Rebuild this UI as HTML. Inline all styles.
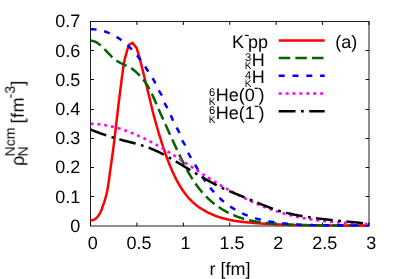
<!DOCTYPE html>
<html><head><meta charset="utf-8"><style>
html,body{margin:0;padding:0;background:#fff;}
svg{display:block;}
text{font-family:"Liberation Sans",sans-serif;font-size:18px;fill:#000;text-rendering:geometricPrecision;}
</style></head><body>
<svg width="399" height="279" viewBox="0 0 399 279">
<rect width="399" height="279" fill="#fff"/>
<clipPath id="c"><rect x="90.5" y="21.5" width="278.5" height="205.5"/></clipPath>
<g stroke="#111" stroke-width="0.95" fill="none">
<rect x="90.5" y="21.5" width="278.5" height="204.5"/>
<g stroke-width="1" stroke="#000"><path d="M90.50,226.0 v-3.4 M90.50,21.5 v3.4"/><path d="M136.92,226.0 v-3.4 M136.92,21.5 v3.4"/><path d="M183.33,226.0 v-3.4 M183.33,21.5 v3.4"/><path d="M229.75,226.0 v-3.4 M229.75,21.5 v3.4"/><path d="M276.17,226.0 v-3.4 M276.17,21.5 v3.4"/><path d="M322.58,226.0 v-3.4 M322.58,21.5 v3.4"/><path d="M369.00,226.0 v-3.4 M369.00,21.5 v3.4"/><path d="M90.5,196.50 h3.4 M369.0,196.50 h-3.4"/><path d="M90.5,167.50 h3.4 M369.0,167.50 h-3.4"/><path d="M90.5,138.50 h3.4 M369.0,138.50 h-3.4"/><path d="M90.5,109.50 h3.4 M369.0,109.50 h-3.4"/><path d="M90.5,79.50 h3.4 M369.0,79.50 h-3.4"/><path d="M90.5,50.50 h3.4 M369.0,50.50 h-3.4"/></g>
</g>
<g clip-path="url(#c)">
<path d="M86.00,219.70 L87.00,219.94 L88.00,220.10 L89.00,220.19 L90.00,220.24 L91.00,220.24 L92.00,220.15 L93.00,220.00 L94.00,219.64 L95.00,219.04 L96.00,218.33 L97.00,217.39 L98.00,216.26 L99.00,214.83 L100.00,213.12 L101.00,211.04 L102.00,208.51 L103.00,205.50 L104.00,202.84 L105.00,199.76 L106.00,196.19 L107.00,192.09 L108.00,186.58 L109.00,179.57 L110.00,172.20 L111.00,165.09 L112.00,157.93 L113.00,150.59 L114.00,142.94 L115.00,134.79 L116.00,126.27 L117.00,117.58 L118.00,108.95 L119.00,100.58 L120.00,92.64 L121.00,84.58 L122.00,76.60 L123.00,69.25 L124.00,63.05 L125.00,58.04 L128.80,44.80 L132.60,42.90 L136.66,48.10 L139.00,55.70 L140.00,59.63 L141.00,63.41 L142.00,67.36 L143.00,71.43 L144.00,75.56 L145.00,79.70 L146.00,83.79 L147.00,87.80 L148.00,91.78 L149.00,95.82 L150.00,100.01 L151.00,104.33 L152.00,108.55 L153.00,112.56 L154.00,116.35 L155.00,119.95 L156.00,123.48 L157.00,127.03 L158.00,130.49 L159.00,133.88 L160.00,137.18 L161.00,140.39 L162.00,143.53 L163.00,146.58 L164.00,149.55 L165.00,152.44 L166.00,155.25 L167.00,157.98 L168.00,160.62 L169.00,163.18 L170.00,165.67 L171.00,168.07 L172.00,170.39 L173.00,172.62 L174.00,174.78 L175.00,176.86 L176.00,178.85 L177.00,180.77 L178.00,182.61 L179.00,184.37 L180.00,186.07 L181.00,187.69 L182.00,189.24 L183.00,190.72 L184.00,192.14 L185.00,193.50 L186.00,194.80 L187.00,196.04 L188.00,197.22 L189.00,198.35 L190.00,199.43 L191.00,200.46 L192.00,201.45 L193.00,202.39 L194.00,203.28 L195.00,204.14 L196.00,204.95 L197.00,205.73 L198.00,206.48 L199.00,207.19 L200.00,207.88 L201.00,208.53 L202.00,209.17 L203.00,209.77 L204.00,210.36 L205.00,210.93 L206.00,211.48 L207.00,212.01 L208.00,212.52 L209.00,213.01 L210.00,213.49 L211.00,213.95 L212.00,214.39 L213.00,214.82 L214.00,215.23 L215.00,215.63 L216.00,216.01 L217.00,216.37 L218.00,216.72 L219.00,217.06 L220.00,217.38 L221.00,217.69 L222.00,217.99 L223.00,218.28 L224.00,218.55 L225.00,218.81 L226.00,219.06 L227.00,219.30 L228.00,219.52 L229.00,219.74 L230.00,219.95 L231.00,220.15 L232.00,220.34 L233.00,220.52 L234.00,220.69 L235.00,220.86 L236.00,221.01 L237.00,221.16 L238.00,221.31 L239.00,221.44 L240.00,221.57 L241.00,221.70 L242.00,221.82 L243.00,221.93 L244.00,222.04 L245.00,222.15 L246.00,222.25 L247.00,222.35 L248.00,222.44 L249.00,222.54 L250.00,222.63 L251.00,222.71 L252.00,222.80 L253.00,222.89 L254.00,222.97 L255.00,223.05 L256.00,223.13 L257.00,223.21 L258.00,223.28 L259.00,223.36 L260.00,223.43 L261.00,223.50 L262.00,223.57 L263.00,223.64 L264.00,223.71 L265.00,223.77 L266.00,223.83 L267.00,223.89 L268.00,223.95 L269.00,224.01 L270.00,224.07 L271.00,224.12 L272.00,224.18 L273.00,224.23 L274.00,224.28 L275.00,224.33 L276.00,224.38 L277.00,224.42 L278.00,224.47 L279.00,224.51 L280.00,224.56 L281.00,224.60 L282.00,224.64 L283.00,224.67 L284.00,224.71 L285.00,224.75 L286.00,224.78 L287.00,224.82 L288.00,224.85 L289.00,224.88 L290.00,224.91 L291.00,224.94 L292.00,224.97 L293.00,225.00 L294.00,225.02 L295.00,225.05 L296.00,225.07 L297.00,225.09 L298.00,225.12 L299.00,225.14 L300.00,225.16 L301.00,225.18 L302.00,225.19 L303.00,225.21 L304.00,225.23 L305.00,225.24 L306.00,225.26 L307.00,225.27 L308.00,225.29 L309.00,225.30 L310.00,225.31 L311.00,225.32 L312.00,225.33 L313.00,225.34 L314.00,225.35 L315.00,225.36 L316.00,225.37 L317.00,225.37 L318.00,225.38 L319.00,225.39 L320.00,225.39 L321.00,225.40 L322.00,225.40 L323.00,225.41 L324.00,225.41 L325.00,225.41 L326.00,225.42 L327.00,225.42 L328.00,225.42 L329.00,225.42 L330.00,225.42 L331.00,225.42 L332.00,225.42 L333.00,225.42 L334.00,225.42 L335.00,225.42 L336.00,225.42 L337.00,225.42 L338.00,225.42 L339.00,225.42 L340.00,225.42 L341.00,225.42 L342.00,225.41 L343.00,225.41 L344.00,225.41 L345.00,225.41 L346.00,225.41 L347.00,225.41 L348.00,225.40 L349.00,225.40 L350.00,225.40 L351.00,225.40 L352.00,225.40 L353.00,225.39 L354.00,225.39 L355.00,225.39 L356.00,225.39 L357.00,225.39 L358.00,225.39 L359.00,225.39 L360.00,225.39 L361.00,225.39 L362.00,225.39 L363.00,225.39 L364.00,225.39 L365.00,225.39 L366.00,225.39 L367.00,225.39 L368.00,225.39 L369.00,225.40" stroke="#ff0000" stroke-width="2.5" fill="none"/>
<path d="M90.50,40.60 L91.50,40.69 L92.50,40.87 L93.50,41.14 L94.50,41.49 L95.50,41.93 L96.50,42.45 L97.50,43.05 L98.50,43.73 L99.50,44.47 L100.50,45.29 L101.50,46.17 L102.50,47.11 L103.50,48.09 L104.50,49.11 L105.50,50.16 L106.50,51.22 L107.50,52.28 L108.50,53.34 L109.50,54.39 L110.50,55.40 L111.50,56.39 L112.50,57.32 L113.50,58.21 L114.50,59.04 L115.50,59.81 L116.50,60.54 L117.50,61.22 L118.50,61.85 L119.50,62.44 L120.50,62.99 L121.50,63.50 L122.50,63.97 L123.50,64.43 L124.50,64.88 L125.50,65.33 L126.50,65.78 L127.50,66.25 L128.50,66.74 L129.50,67.27 L130.50,67.84 L131.50,68.46 L132.50,69.14 L133.50,69.87 L134.50,70.66 L135.50,71.50 L136.50,72.40 L137.50,73.34 L138.50,74.33 L139.50,75.38 L140.50,76.47 L141.50,77.61 L142.50,78.80 L143.50,80.03 L144.50,81.33 L145.50,82.69 L146.50,84.14 L147.50,85.68 L148.50,87.34 L149.50,89.12 L150.50,91.03 L151.50,93.05 L152.50,95.17 L153.50,97.37 L154.50,99.63 L155.50,101.92 L156.50,104.24 L157.50,106.56 L158.50,108.87 L159.50,111.14 L160.50,113.40 L161.50,115.64 L162.50,117.87 L163.50,120.10 L164.50,122.33 L165.50,124.57 L166.50,126.80 L167.50,129.02 L168.50,131.25 L169.50,133.47 L170.50,135.68 L171.50,137.88 L172.50,140.07 L173.50,142.25 L174.50,144.42 L175.50,146.58 L176.50,148.72 L177.50,150.85 L178.50,152.95 L179.50,155.04 L180.50,157.10 L181.50,159.14 L182.50,161.15 L183.50,163.13 L184.50,165.09 L185.50,167.02 L186.50,168.92 L187.50,170.76 L188.50,172.55 L189.50,174.29 L190.50,175.98 L191.50,177.62 L192.50,179.20 L193.50,180.74 L194.50,182.24 L195.50,183.69 L196.50,185.09 L197.50,186.45 L198.50,187.77 L199.50,189.04 L200.50,190.28 L201.50,191.47 L202.50,192.63 L203.50,193.75 L204.50,194.84 L205.50,195.89 L206.50,196.90 L207.50,197.89 L208.50,198.84 L209.50,199.76 L210.50,200.65 L211.50,201.52 L212.50,202.35 L213.50,203.17 L214.50,203.95 L215.50,204.71 L216.50,205.45 L217.50,206.17 L218.50,206.87 L219.50,207.54 L220.50,208.20 L221.50,208.84 L222.50,209.46 L223.50,210.06 L224.50,210.65 L225.50,211.21 L226.50,211.76 L227.50,212.30 L228.50,212.81 L229.50,213.31 L230.50,213.79 L231.50,214.26 L232.50,214.71 L233.50,215.15 L234.50,215.57 L235.50,215.97 L236.50,216.37 L237.50,216.75 L238.50,217.11 L239.50,217.46 L240.50,217.80 L241.50,218.12 L242.50,218.44 L243.50,218.74 L244.50,219.03 L245.50,219.30 L246.50,219.57 L247.50,219.82 L248.50,220.07 L249.50,220.30 L250.50,220.53 L251.50,220.74 L252.50,220.94 L253.50,221.14 L254.50,221.33 L255.50,221.51 L256.50,221.68 L257.50,221.84 L258.50,221.99 L259.50,222.14 L260.50,222.28 L261.50,222.41 L262.50,222.54 L263.50,222.66 L264.50,222.78 L265.50,222.89 L266.50,222.99 L267.50,223.09 L268.50,223.19 L269.50,223.28 L270.50,223.37 L271.50,223.45 L272.50,223.53 L273.50,223.61 L274.50,223.68 L275.50,223.75 L276.50,223.82 L277.50,223.89 L278.50,223.96 L279.50,224.02 L280.50,224.08 L281.50,224.14 L282.50,224.20 L283.50,224.26 L284.50,224.31 L285.50,224.37 L286.50,224.42 L287.50,224.47 L288.50,224.52 L289.50,224.56 L290.50,224.61 L291.50,224.65 L292.50,224.69 L293.50,224.73 L294.50,224.77 L295.50,224.81 L296.50,224.84 L297.50,224.87 L298.50,224.91 L299.50,224.94 L300.50,224.97 L301.50,225.00 L302.50,225.02 L303.50,225.05 L304.50,225.07 L305.50,225.10 L306.50,225.12 L307.50,225.14 L308.50,225.16 L309.50,225.18 L310.50,225.20 L311.50,225.21 L312.50,225.23 L313.50,225.24 L314.50,225.26 L315.50,225.27 L316.50,225.28 L317.50,225.29 L318.50,225.31 L319.50,225.31 L320.50,225.32 L321.50,225.33 L322.50,225.34 L323.50,225.35 L324.50,225.35 L325.50,225.36 L326.50,225.36 L327.50,225.37 L328.50,225.37 L329.50,225.37 L330.50,225.37 L331.50,225.38 L332.50,225.38 L333.50,225.38 L334.50,225.38 L335.50,225.38 L336.50,225.38 L337.50,225.38 L338.50,225.38 L339.50,225.38 L340.50,225.38 L341.50,225.38 L342.50,225.38 L343.50,225.38 L344.50,225.38 L345.50,225.37 L346.50,225.37 L347.50,225.37 L348.50,225.37 L349.50,225.37 L350.50,225.37 L351.50,225.37 L352.50,225.37 L353.50,225.37 L354.50,225.37 L355.50,225.36 L356.50,225.36 L357.50,225.36 L358.50,225.37 L359.50,225.37 L360.50,225.37 L361.50,225.37 L362.50,225.37 L363.50,225.37 L364.50,225.38 L365.50,225.38 L366.50,225.38 L367.50,225.39 L368.50,225.39 L369.00,225.40" stroke="#006400" stroke-width="2.5" fill="none" stroke-dasharray="11.5 5.15"/>
<path d="M90.50,29.16 L91.50,29.18 L92.50,29.22 L93.50,29.29 L94.50,29.37 L95.50,29.48 L96.50,29.60 L97.50,29.75 L98.50,29.92 L99.50,30.10 L100.50,30.31 L101.50,30.54 L102.50,30.80 L103.50,31.07 L104.50,31.37 L105.50,31.69 L106.50,32.03 L107.50,32.40 L108.50,32.79 L109.50,33.21 L110.50,33.65 L111.50,34.11 L112.50,34.60 L113.50,35.12 L114.50,35.66 L115.50,36.23 L116.50,36.83 L117.50,37.45 L118.50,38.10 L119.50,38.78 L120.50,39.48 L121.50,40.21 L122.50,40.98 L123.50,41.77 L124.50,42.59 L125.50,43.44 L126.50,44.32 L127.50,45.23 L128.50,46.17 L129.50,47.14 L130.50,48.14 L131.50,49.18 L132.50,50.24 L133.50,51.34 L134.50,52.47 L135.50,53.64 L136.50,54.84 L137.50,56.07 L138.50,57.33 L139.50,58.63 L140.50,59.97 L141.50,61.34 L142.50,62.75 L143.50,64.19 L144.50,65.67 L145.50,67.19 L146.50,68.73 L147.50,70.29 L148.50,71.87 L149.50,73.45 L150.50,75.03 L151.50,76.59 L152.50,78.14 L153.50,79.73 L154.50,81.46 L155.50,83.44 L156.50,85.72 L157.50,88.07 L158.50,90.11 L159.50,91.68 L160.50,93.11 L161.50,94.82 L162.50,97.20 L163.50,100.08 L164.50,102.82 L165.50,104.94 L166.50,106.66 L167.50,108.31 L168.50,110.21 L169.50,112.37 L170.50,114.68 L171.50,117.02 L172.50,119.34 L173.50,121.60 L174.50,123.75 L175.50,125.76 L176.50,127.57 L177.50,129.23 L178.50,130.98 L179.50,133.08 L180.50,135.73 L181.50,138.57 L182.50,140.92 L183.50,142.64 L184.50,144.15 L185.50,145.87 L186.50,148.17 L187.50,150.79 L188.50,153.23 L189.50,155.25 L190.50,157.02 L191.50,158.68 L192.50,160.36 L193.50,162.04 L194.50,163.73 L195.50,165.43 L196.50,167.12 L197.50,168.81 L198.50,170.48 L199.50,172.13 L200.50,173.77 L201.50,175.38 L202.50,176.95 L203.50,178.49 L204.50,179.99 L205.50,181.44 L206.50,182.86 L207.50,184.23 L208.50,185.56 L209.50,186.86 L210.50,188.12 L211.50,189.34 L212.50,190.53 L213.50,191.68 L214.50,192.79 L215.50,193.87 L216.50,194.92 L217.50,195.94 L218.50,196.93 L219.50,197.89 L220.50,198.82 L221.50,199.72 L222.50,200.59 L223.50,201.43 L224.50,202.25 L225.50,203.05 L226.50,203.82 L227.50,204.57 L228.50,205.30 L229.50,206.00 L230.50,206.69 L231.50,207.35 L232.50,208.00 L233.50,208.62 L234.50,209.23 L235.50,209.82 L236.50,210.39 L237.50,210.95 L238.50,211.49 L239.50,212.01 L240.50,212.51 L241.50,213.00 L242.50,213.47 L243.50,213.93 L244.50,214.37 L245.50,214.80 L246.50,215.21 L247.50,215.61 L248.50,215.99 L249.50,216.36 L250.50,216.72 L251.50,217.07 L252.50,217.40 L253.50,217.72 L254.50,218.03 L255.50,218.33 L256.50,218.61 L257.50,218.89 L258.50,219.15 L259.50,219.41 L260.50,219.66 L261.50,219.89 L262.50,220.12 L263.50,220.34 L264.50,220.55 L265.50,220.75 L266.50,220.95 L267.50,221.13 L268.50,221.31 L269.50,221.49 L270.50,221.65 L271.50,221.82 L272.50,221.97 L273.50,222.12 L274.50,222.27 L275.50,222.41 L276.50,222.55 L277.50,222.68 L278.50,222.81 L279.50,222.93 L280.50,223.05 L281.50,223.17 L282.50,223.28 L283.50,223.39 L284.50,223.49 L285.50,223.59 L286.50,223.69 L287.50,223.78 L288.50,223.87 L289.50,223.96 L290.50,224.04 L291.50,224.12 L292.50,224.19 L293.50,224.27 L294.50,224.34 L295.50,224.40 L296.50,224.47 L297.50,224.53 L298.50,224.58 L299.50,224.64 L300.50,224.69 L301.50,224.74 L302.50,224.79 L303.50,224.83 L304.50,224.87 L305.50,224.91 L306.50,224.95 L307.50,224.98 L308.50,225.01 L309.50,225.04 L310.50,225.07 L311.50,225.10 L312.50,225.12 L313.50,225.14 L314.50,225.16 L315.50,225.18 L316.50,225.20 L317.50,225.21 L318.50,225.23 L319.50,225.24 L320.50,225.25 L321.50,225.26 L322.50,225.27 L323.50,225.27 L324.50,225.28 L325.50,225.28 L326.50,225.29 L327.50,225.29 L328.50,225.29 L329.50,225.29 L330.50,225.29 L331.50,225.29 L332.50,225.29 L333.50,225.29 L334.50,225.29 L335.50,225.28 L336.50,225.28 L337.50,225.28 L338.50,225.27 L339.50,225.27 L340.50,225.26 L341.50,225.26 L342.50,225.26 L343.50,225.25 L344.50,225.25 L345.50,225.25 L346.50,225.24 L347.50,225.24 L348.50,225.24 L349.50,225.24 L350.50,225.23 L351.50,225.23 L352.50,225.23 L353.50,225.23 L354.50,225.24 L355.50,225.24 L356.50,225.24 L357.50,225.25 L358.50,225.25 L359.50,225.26 L360.50,225.27 L361.50,225.28 L362.50,225.29 L363.50,225.30 L364.50,225.31 L365.50,225.33 L366.50,225.35 L367.50,225.37 L368.50,225.39 L369.00,225.40" stroke="#0000ff" stroke-width="2.5" fill="none" stroke-dasharray="6 7.8"/>
<path d="M90.50,123.79 L91.50,123.80 L92.50,123.83 L93.50,123.87 L94.50,123.93 L95.50,123.99 L96.50,124.06 L97.50,124.15 L98.50,124.24 L99.50,124.35 L100.50,124.47 L101.50,124.59 L102.50,124.73 L103.50,124.88 L104.50,125.04 L105.50,125.21 L106.50,125.39 L107.50,125.57 L108.50,125.77 L109.50,125.98 L110.50,126.20 L111.50,126.43 L112.50,126.66 L113.50,126.91 L114.50,127.16 L115.50,127.43 L116.50,127.70 L117.50,127.98 L118.50,128.27 L119.50,128.57 L120.50,128.88 L121.50,129.20 L122.50,129.53 L123.50,129.86 L124.50,130.20 L125.50,130.55 L126.50,130.91 L127.50,131.28 L128.50,131.65 L129.50,132.04 L130.50,132.43 L131.50,132.82 L132.50,133.23 L133.50,133.64 L134.50,134.06 L135.50,134.49 L136.50,134.92 L137.50,135.37 L138.50,135.81 L139.50,136.27 L140.50,136.73 L141.50,137.20 L142.50,137.68 L143.50,138.16 L144.50,138.64 L145.50,139.14 L146.50,139.64 L147.50,140.15 L148.50,140.66 L149.50,141.18 L150.50,141.70 L151.50,142.23 L152.50,142.77 L153.50,143.31 L154.50,143.85 L155.50,144.40 L156.50,144.96 L157.50,145.52 L158.50,146.09 L159.50,146.66 L160.50,147.24 L161.50,147.82 L162.50,148.40 L163.50,149.00 L164.50,149.59 L165.50,150.19 L166.50,150.79 L167.50,151.40 L168.50,152.01 L169.50,152.62 L170.50,153.24 L171.50,153.86 L172.50,154.49 L173.50,155.12 L174.50,155.75 L175.50,156.38 L176.50,157.02 L177.50,157.65 L178.50,158.29 L179.50,158.94 L180.50,159.58 L181.50,160.23 L182.50,160.88 L183.50,161.53 L184.50,162.18 L185.50,162.83 L186.50,163.48 L187.50,164.14 L188.50,164.79 L189.50,165.45 L190.50,166.10 L191.50,166.76 L192.50,167.41 L193.50,168.07 L194.50,168.73 L195.50,169.38 L196.50,170.04 L197.50,170.69 L198.50,171.35 L199.50,172.00 L200.50,172.65 L201.50,173.30 L202.50,173.95 L203.50,174.60 L204.50,175.24 L205.50,175.89 L206.50,176.53 L207.50,177.17 L208.50,177.81 L209.50,178.44 L210.50,179.07 L211.50,179.70 L212.50,180.33 L213.50,180.96 L214.50,181.58 L215.50,182.19 L216.50,182.81 L217.50,183.42 L218.50,184.02 L219.50,184.62 L220.50,185.22 L221.50,185.82 L222.50,186.40 L223.50,186.99 L224.50,187.57 L225.50,188.15 L226.50,188.72 L227.50,189.28 L228.50,189.85 L229.50,190.40 L230.50,190.96 L231.50,191.51 L232.50,192.05 L233.50,192.59 L234.50,193.13 L235.50,193.66 L236.50,194.18 L237.50,194.70 L238.50,195.22 L239.50,195.73 L240.50,196.24 L241.50,196.74 L242.50,197.24 L243.50,197.74 L244.50,198.22 L245.50,198.71 L246.50,199.19 L247.50,199.66 L248.50,200.13 L249.50,200.60 L250.50,201.06 L251.50,201.51 L252.50,201.96 L253.50,202.41 L254.50,202.85 L255.50,203.28 L256.50,203.71 L257.50,204.14 L258.50,204.56 L259.50,204.98 L260.50,205.39 L261.50,205.79 L262.50,206.19 L263.50,206.59 L264.50,206.98 L265.50,207.37 L266.50,207.75 L267.50,208.12 L268.50,208.49 L269.50,208.86 L270.50,209.22 L271.50,209.57 L272.50,209.92 L273.50,210.27 L274.50,210.61 L275.50,210.94 L276.50,211.27 L277.50,211.60 L278.50,211.91 L279.50,212.23 L280.50,212.54 L281.50,212.84 L282.50,213.14 L283.50,213.43 L284.50,213.72 L285.50,214.00 L286.50,214.27 L287.50,214.54 L288.50,214.81 L289.50,215.07 L290.50,215.32 L291.50,215.57 L292.50,215.82 L293.50,216.05 L294.50,216.29 L295.50,216.51 L296.50,216.74 L297.50,216.95 L298.50,217.17 L299.50,217.37 L300.50,217.57 L301.50,217.77 L302.50,217.96 L303.50,218.15 L304.50,218.34 L305.50,218.52 L306.50,218.69 L307.50,218.86 L308.50,219.03 L309.50,219.19 L310.50,219.34 L311.50,219.50 L312.50,219.65 L313.50,219.79 L314.50,219.93 L315.50,220.07 L316.50,220.21 L317.50,220.34 L318.50,220.46 L319.50,220.59 L320.50,220.71 L321.50,220.83 L322.50,220.94 L323.50,221.05 L324.50,221.16 L325.50,221.26 L326.50,221.36 L327.50,221.46 L328.50,221.56 L329.50,221.65 L330.50,221.74 L331.50,221.83 L332.50,221.92 L333.50,222.00 L334.50,222.08 L335.50,222.16 L336.50,222.24 L337.50,222.31 L338.50,222.39 L339.50,222.46 L340.50,222.53 L341.50,222.60 L342.50,222.66 L343.50,222.73 L344.50,222.79 L345.50,222.85 L346.50,222.91 L347.50,222.97 L348.50,223.03 L349.50,223.08 L350.50,223.14 L351.50,223.19 L352.50,223.24 L353.50,223.30 L354.50,223.35 L355.50,223.40 L356.50,223.45 L357.50,223.50 L358.50,223.55 L359.50,223.60 L360.50,223.65 L361.50,223.70 L362.50,223.75 L363.50,223.79 L364.50,223.84 L365.50,223.89 L366.50,223.94 L367.50,223.99 L368.50,224.04 L369.00,224.06" stroke="#ff00ff" stroke-width="2.5" fill="none" stroke-dasharray="3 3.9"/>
<path d="M90.50,129.49 L91.50,129.90 L92.50,130.31 L93.50,130.70 L94.50,131.10 L95.50,131.49 L96.50,131.87 L97.50,132.25 L98.50,132.62 L99.50,132.99 L100.50,133.35 L101.50,133.71 L102.50,134.06 L103.50,134.41 L104.50,134.75 L105.50,135.09 L106.50,135.42 L107.50,135.75 L108.50,136.08 L109.50,136.40 L110.50,136.71 L111.50,137.02 L112.50,137.33 L113.50,137.63 L114.50,137.93 L115.50,138.23 L116.50,138.52 L117.50,138.80 L118.50,139.08 L119.50,139.36 L120.50,139.64 L121.50,139.91 L122.50,140.18 L123.50,140.44 L124.50,140.70 L125.50,140.96 L126.50,141.22 L127.50,141.47 L128.50,141.73 L129.50,141.98 L130.50,142.24 L131.50,142.50 L132.50,142.75 L133.50,143.02 L134.50,143.28 L135.50,143.55 L136.50,143.82 L137.50,144.10 L138.50,144.38 L139.50,144.67 L140.50,144.96 L141.50,145.27 L142.50,145.58 L143.50,145.89 L144.50,146.22 L145.50,146.56 L146.50,146.90 L147.50,147.26 L148.50,147.63 L149.50,148.01 L150.50,148.40 L151.50,148.81 L152.50,149.22 L153.50,149.65 L154.50,150.09 L155.50,150.54 L156.50,151.00 L157.50,151.47 L158.50,151.95 L159.50,152.44 L160.50,152.94 L161.50,153.45 L162.50,153.97 L163.50,154.49 L164.50,155.02 L165.50,155.56 L166.50,156.10 L167.50,156.66 L168.50,157.21 L169.50,157.77 L170.50,158.34 L171.50,158.91 L172.50,159.49 L173.50,160.07 L174.50,160.65 L175.50,161.24 L176.50,161.83 L177.50,162.42 L178.50,163.01 L179.50,163.61 L180.50,164.20 L181.50,164.80 L182.50,165.40 L183.50,166.01 L184.50,166.61 L185.50,167.21 L186.50,167.82 L187.50,168.42 L188.50,169.02 L189.50,169.63 L190.50,170.23 L191.50,170.83 L192.50,171.44 L193.50,172.04 L194.50,172.64 L195.50,173.24 L196.50,173.83 L197.50,174.43 L198.50,175.02 L199.50,175.61 L200.50,176.20 L201.50,176.79 L202.50,177.37 L203.50,177.95 L204.50,178.52 L205.50,179.10 L206.50,179.66 L207.50,180.23 L208.50,180.79 L209.50,181.34 L210.50,181.90 L211.50,182.44 L212.50,182.98 L213.50,183.52 L214.50,184.05 L215.50,184.57 L216.50,185.09 L217.50,185.60 L218.50,186.10 L219.50,186.60 L220.50,187.09 L221.50,187.57 L222.50,188.04 L223.50,188.51 L224.50,188.97 L225.50,189.42 L226.50,189.87 L227.50,190.31 L228.50,190.74 L229.50,191.17 L230.50,191.60 L231.50,192.02 L232.50,192.43 L233.50,192.85 L234.50,193.26 L235.50,193.67 L236.50,194.07 L237.50,194.48 L238.50,194.89 L239.50,195.29 L240.50,195.69 L241.50,196.10 L242.50,196.51 L243.50,196.91 L244.50,197.32 L245.50,197.74 L246.50,198.15 L247.50,198.57 L248.50,198.98 L249.50,199.40 L250.50,199.82 L251.50,200.24 L252.50,200.66 L253.50,201.08 L254.50,201.50 L255.50,201.92 L256.50,202.34 L257.50,202.76 L258.50,203.17 L259.50,203.58 L260.50,203.99 L261.50,204.40 L262.50,204.81 L263.50,205.21 L264.50,205.61 L265.50,206.00 L266.50,206.39 L267.50,206.78 L268.50,207.16 L269.50,207.53 L270.50,207.90 L271.50,208.27 L272.50,208.63 L273.50,208.98 L274.50,209.32 L275.50,209.66 L276.50,209.99 L277.50,210.31 L278.50,210.63 L279.50,210.93 L280.50,211.23 L281.50,211.52 L282.50,211.80 L283.50,212.08 L284.50,212.35 L285.50,212.61 L286.50,212.86 L287.50,213.11 L288.50,213.35 L289.50,213.58 L290.50,213.81 L291.50,214.03 L292.50,214.24 L293.50,214.46 L294.50,214.66 L295.50,214.86 L296.50,215.06 L297.50,215.25 L298.50,215.44 L299.50,215.62 L300.50,215.80 L301.50,215.98 L302.50,216.15 L303.50,216.32 L304.50,216.48 L305.50,216.65 L306.50,216.80 L307.50,216.96 L308.50,217.12 L309.50,217.27 L310.50,217.41 L311.50,217.56 L312.50,217.70 L313.50,217.84 L314.50,217.98 L315.50,218.11 L316.50,218.25 L317.50,218.38 L318.50,218.51 L319.50,218.63 L320.50,218.76 L321.50,218.88 L322.50,219.00 L323.50,219.12 L324.50,219.23 L325.50,219.35 L326.50,219.46 L327.50,219.57 L328.50,219.68 L329.50,219.79 L330.50,219.90 L331.50,220.01 L332.50,220.11 L333.50,220.22 L334.50,220.32 L335.50,220.42 L336.50,220.52 L337.50,220.62 L338.50,220.72 L339.50,220.82 L340.50,220.92 L341.50,221.02 L342.50,221.12 L343.50,221.21 L344.50,221.31 L345.50,221.41 L346.50,221.50 L347.50,221.60 L348.50,221.70 L349.50,221.80 L350.50,221.89 L351.50,221.99 L352.50,222.09 L353.50,222.19 L354.50,222.28 L355.50,222.38 L356.50,222.48 L357.50,222.58 L358.50,222.68 L359.50,222.79 L360.50,222.89 L361.50,222.99 L362.50,223.10 L363.50,223.20 L364.50,223.31 L365.50,223.42 L366.50,223.53 L367.50,223.64 L368.50,223.75 L369.00,223.81" stroke="#000000" stroke-width="2.5" fill="none" stroke-dasharray="16.8 5.5 2.8 5.4"/>
</g>

<path d="M278.7,40.4 H324.7" stroke="#ff0000" stroke-width="2.5"/>
<path d="M278.7,58.05 H324.7" stroke="#006400" stroke-width="2.5" stroke-dasharray="11.5 5.15"/>
<path d="M278.7,75.7 H324.7" stroke="#0000ff" stroke-width="2.5" stroke-dasharray="6 7.8"/>
<path d="M278.7,93.5 H324.7" stroke="#ff00ff" stroke-width="2.5" stroke-dasharray="3 3.9"/>
<path d="M278.7,111.15 H324.7" stroke="#000000" stroke-width="2.5" stroke-dasharray="16.8 5.5 2.8 5.4"/>

<g style="opacity:0.999">
<text x="92.70" y="249.4" text-anchor="middle">0</text><text x="139.12" y="249.4" text-anchor="middle">0.5</text><text x="185.53" y="249.4" text-anchor="middle">1</text><text x="231.95" y="249.4" text-anchor="middle">1.5</text><text x="278.37" y="249.4" text-anchor="middle">2</text><text x="324.78" y="249.4" text-anchor="middle">2.5</text><text x="371.20" y="249.4" text-anchor="middle">3</text><text x="80.3" y="231.85" text-anchor="end">0</text><text x="80.3" y="202.64" text-anchor="end">0.1</text><text x="80.3" y="173.42" text-anchor="end">0.2</text><text x="80.3" y="144.21" text-anchor="end">0.3</text><text x="80.3" y="114.99" text-anchor="end">0.4</text><text x="80.3" y="85.78" text-anchor="end">0.5</text><text x="80.3" y="56.56" text-anchor="end">0.6</text><text x="80.3" y="27.35" text-anchor="end">0.7</text>

<text x="232" y="47.9">K</text><path d="M244.8,35.40 h3.9" stroke="#000" stroke-width="1.15"/><text x="247.9" y="47.9">pp</text>
<text x="244.9" y="61.00" style="font-size:11.2px">3</text><text x="244.75" y="69.00" style="font-size:10px">K</text><path d="M245.2,61.80 h4.2" stroke="#000" stroke-opacity="0.3" stroke-width="0.6"/><text x="251.8" y="65.6">H</text>
<text x="244.9" y="78.70" style="font-size:11.2px">4</text><text x="244.75" y="86.70" style="font-size:10px">K</text><path d="M245.2,79.50 h4.2" stroke="#000" stroke-opacity="0.3" stroke-width="0.6"/><text x="251.8" y="83.3">H</text>
<text x="209.0" y="96.20" style="font-size:11.2px">6</text><text x="208.75" y="104.80" style="font-size:10px">K</text><path d="M209.2,97.60 h4.2" stroke="#000" stroke-opacity="0.3" stroke-width="0.6"/><text x="215.8" y="100.8">He(0</text><path d="M254.6,88.30 h3.9" stroke="#000" stroke-width="1.15"/><text x="258.4" y="100.8">)</text>
<text x="209.0" y="113.60" style="font-size:11.2px">6</text><text x="208.75" y="122.50" style="font-size:10px">K</text><path d="M209.2,115.30 h4.2" stroke="#000" stroke-opacity="0.3" stroke-width="0.6"/><text x="215.8" y="118.8">He(1</text><path d="M254.6,106.30 h3.9" stroke="#000" stroke-width="1.15"/><text x="258.4" y="118.8">)</text>
<text x="335.3" y="47.6">(a)</text>


<g transform="translate(23.7,165.9) rotate(-90)">
<text x="0" y="0">ρ</text>
<text x="9.6" y="-8.8" style="font-size:14.0px">Ncm</text>
<text x="9.6" y="4.1" style="font-size:14.0px">N</text>
<text x="42.4" y="0" style="letter-spacing:0.5px">[fm</text>
<text x="67.6" y="-9" style="font-size:14.0px">-3</text>
<text x="80.2" y="0">]</text>
</g>

<text x="209.6" y="275.4">r [fm]</text>
</g>
</svg>
</body></html>
